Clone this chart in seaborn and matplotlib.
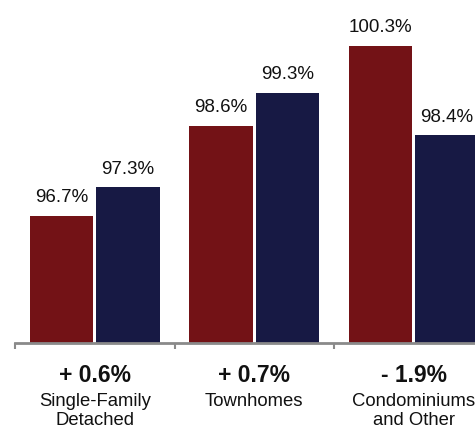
import matplotlib
matplotlib.use("Agg")
import matplotlib.pyplot as plt
import matplotlib.transforms as mtransforms
import pandas as pd
import seaborn as sns

# Data: share of list price received, prior vs current period
categories = ["Single-Family\nDetached", "Townhomes", "Condominiums\nand Other"]
prior_pct = [96.7, 98.6, 100.3]
current_pct = [97.3, 99.3, 98.4]
periods = ["Prior", "Current"]
colors = ["#731216", "#171944"]

df = pd.DataFrame({
    "category": categories * 2,
    "period": [periods[0]] * 3 + [periods[1]] * 3,
    "pct": prior_pct + current_pct,
})

sns.set_theme(style="white")
plt.rcParams["font.family"] = ["Liberation Sans", "DejaVu Sans"]

W, H = 475, 429
fig = plt.figure(figsize=(W / 100, H / 100), dpi=100)
ax = fig.add_axes([15 / W, 1 - 343 / H, 1 - 15 / W, 343 / H])

sns.barplot(data=df, x="category", y="pct", hue="period", order=categories,
            hue_order=periods, palette=colors, width=0.834, gap=0.045,
            saturation=1, legend=False, ax=ax, edgecolor="none")

for cont in ax.containers:
    ax.bar_label(cont, fmt="{:.1f}%", padding=7, fontsize=13.5, color="#111111",
                 clip_on=False)

# axis styling: only a grey baseline with small downward ticks between groups
for side in ["top", "right", "left"]:
    ax.spines[side].set_visible(False)
ax.spines["bottom"].set_color("#8a8a8a")
ax.spines["bottom"].set_linewidth(2)
ax.set_yticks([])
ax.set_xticks([-0.5, 0.5, 1.5, 2.5])
ax.set_xticklabels([])
ax.tick_params(axis="x", direction="out", length=4, width=1.5, color="#8a8a8a",
               bottom=True)
ax.set_xlabel("")
ax.set_ylabel("")

# view limits: the last group runs off the right edge
ax.set_ylim(94, 94 + 343 / 47.2)
ax.set_xlim(-0.5, -0.5 + (W - 15) / 159.5)

# change labels and category names below the axis
trans = mtransforms.blended_transform_factory(ax.transData, fig.transFigure)
for i, cat in enumerate(categories):
    diff = current_pct[i] - prior_pct[i]
    sign = "+" if diff >= 0 else "-"
    ax.text(i, 1 - 382 / H, f"{sign} {abs(diff):.1f}%", transform=trans,
            ha="center", va="baseline", fontsize=16.5, fontweight="bold",
            color="#111111", clip_on=False)
    for j, line in enumerate(cat.split("\n")):
        ax.text(i, 1 - (406 + 19 * j) / H, line, transform=trans,
                ha="center", va="baseline", fontsize=13.3, color="#111111",
                clip_on=False)

fig.savefig("out.png", dpi=100)
